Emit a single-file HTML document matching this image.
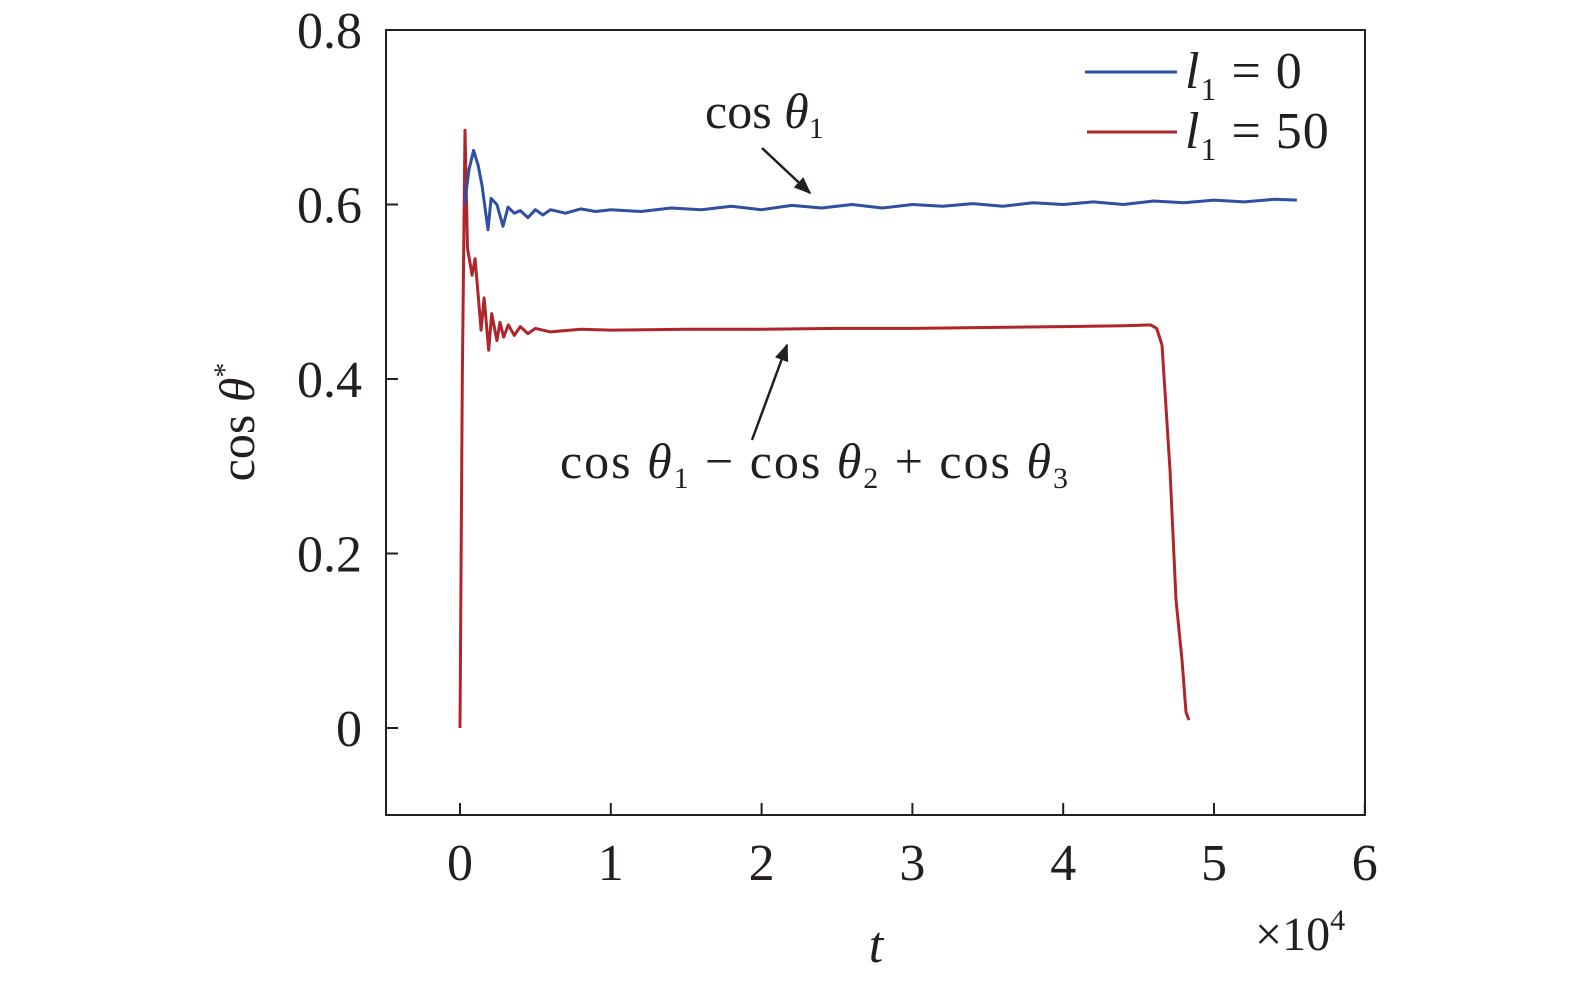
<!DOCTYPE html>
<html><head><meta charset="utf-8"><style>
html,body{margin:0;padding:0;background:#fff;}
svg text{font-family:"Liberation Serif",serif;fill:#231f20;}
</style></head><body>
<svg id="chart" width="1575" height="986" viewBox="0 0 1575 986" xmlns="http://www.w3.org/2000/svg">
<defs><marker id="ah" viewBox="0 0 10 10" refX="9" refY="5" markerWidth="7" markerHeight="7" orient="auto"><path d="M0,1 L10,5 L0,9 z" fill="#231f20"/></marker></defs>
<rect x="386" y="30" width="979" height="785" fill="none" stroke="#231f20" stroke-width="2"/>
<g id="ticks"></g>
<g id="series"></g>
<text transform="translate(254,422) rotate(-90)" text-anchor="middle" font-size="50">cos <tspan font-style="italic">θ</tspan><tspan font-size="30" dy="-20">*</tspan></text>
<text x="876" y="962" text-anchor="middle" font-size="52" font-style="italic">t</text>
<text x="1255" y="950" font-size="48">×10<tspan font-size="30" dy="-20">4</tspan></text>
<g>
<line x1="1085" y1="72" x2="1177" y2="72" stroke="#2f4fa0" stroke-width="3"/>
<text x="1185" y="88" font-size="52" letter-spacing="1"><tspan font-style="italic">l</tspan><tspan font-size="32" dy="12">1</tspan><tspan dy="-12"> = 0</tspan></text>
<line x1="1087" y1="132" x2="1177" y2="132" stroke="#b0252c" stroke-width="3"/>
<text x="1185" y="148" font-size="52" letter-spacing="1"><tspan font-style="italic">l</tspan><tspan font-size="32" dy="12">1</tspan><tspan dy="-12"> = 50</tspan></text>
</g>
<text x="705" y="128" font-size="50">cos <tspan font-style="italic">θ</tspan><tspan font-size="30" dy="10">1</tspan></text>
<line x1="762" y1="148" x2="810" y2="193" stroke="#231f20" stroke-width="2.5" marker-end="url(#ah)"/>
<text x="560" y="478" font-size="50" textLength="508" lengthAdjust="spacing">cos <tspan font-style="italic">θ</tspan><tspan font-size="30" dy="10">1</tspan><tspan dy="-10"> − cos </tspan><tspan font-style="italic">θ</tspan><tspan font-size="30" dy="10">2</tspan><tspan dy="-10"> + cos </tspan><tspan font-style="italic">θ</tspan><tspan font-size="30" dy="10">3</tspan></text>
<line x1="752" y1="440" x2="787" y2="345" stroke="#231f20" stroke-width="2.5" marker-end="url(#ah)"/>
</svg>
<script>
const xTicks=[0,1,2,3,4,5,6];
const yTicks=[0,0.2,0.4,0.6,0.8];
const yTickLabels=["0","0.2","0.4","0.6","0.8"];
const blueT=[0.03,0.06,0.09,0.12,0.146,0.186,0.206,0.245,0.285,0.318,0.36,0.40,0.45,0.5,0.55,0.6,0.7,0.8,0.9,1.0,1.2,1.4,1.6,1.8,2.0,2.2,2.4,2.6,2.8,3.0,3.2,3.4,3.6,3.8,4.0,4.2,4.4,4.6,4.8,5.0,5.2,5.4,5.55];
const blueY=[0.60,0.64,0.662,0.645,0.622,0.571,0.607,0.600,0.575,0.597,0.590,0.593,0.585,0.594,0.588,0.594,0.590,0.595,0.592,0.594,0.592,0.596,0.594,0.598,0.594,0.599,0.596,0.600,0.596,0.600,0.598,0.601,0.598,0.602,0.600,0.603,0.600,0.604,0.602,0.605,0.603,0.606,0.605];
const redT=[0,0.015,0.033,0.05,0.08,0.10,0.14,0.16,0.19,0.21,0.245,0.265,0.29,0.32,0.36,0.40,0.45,0.5,0.6,0.8,1.0,1.5,2.0,2.5,3.0,3.5,4.0,4.4,4.58,4.62,4.655,4.708,4.748,4.788,4.814,4.834];
const redY=[0,0.40,0.685,0.55,0.519,0.538,0.456,0.493,0.433,0.475,0.444,0.465,0.448,0.462,0.450,0.460,0.452,0.458,0.454,0.457,0.456,0.457,0.457,0.458,0.458,0.459,0.460,0.461,0.462,0.458,0.439,0.296,0.147,0.078,0.018,0.009];
const xs=t=>460+t*150.8;
const ys=v=>728-v*872.5;
const NS="http://www.w3.org/2000/svg";
const tg=document.getElementById('ticks');
xTicks.forEach(t=>{
 const l=document.createElementNS(NS,'line');
 
 
 l.setAttribute('x1',xs(t));l.setAttribute('x2',xs(t));l.setAttribute('y1',815);l.setAttribute('y2',803);
 l.setAttribute('stroke','#231f20');l.setAttribute('stroke-width','2');tg.appendChild(l);
 const tx=document.createElementNS(NS,'text');
 
 
 tx.setAttribute('x',xs(t));tx.setAttribute('y',880);tx.setAttribute('text-anchor','middle');tx.setAttribute('font-size','52');
 tx.textContent=String(t);tg.appendChild(tx);
});
yTicks.forEach((v,i)=>{
 const l=document.createElementNS(NS,'line');
 
 
 l.setAttribute('x1',386);l.setAttribute('x2',398);l.setAttribute('y1',ys(v));l.setAttribute('y2',ys(v));
 l.setAttribute('stroke','#231f20');l.setAttribute('stroke-width','2');tg.appendChild(l);
 const tx=document.createElementNS(NS,'text');
 
 
 tx.setAttribute('x',362);tx.setAttribute('y',ys(v)+18);tx.setAttribute('text-anchor','end');tx.setAttribute('font-size','52');
 tx.textContent=yTickLabels[i];tg.appendChild(tx);
});
const sg=document.getElementById('series');
function line(T,Y,color,name){
 const p=document.createElementNS(NS,'polyline');
 
 
 p.setAttribute('points',T.map((t,i)=>xs(t).toFixed(1)+','+ys(Y[i]).toFixed(1)).join(' '));
 p.setAttribute('fill','none');p.setAttribute('stroke',color);p.setAttribute('stroke-width','3');p.setAttribute('stroke-linejoin','round');
 sg.appendChild(p);
}
line(redT,redY,'#b0252c','series-l1-50');
line(blueT,blueY,'#2f4fa0','series-l1-0');
</script>
</body></html>
